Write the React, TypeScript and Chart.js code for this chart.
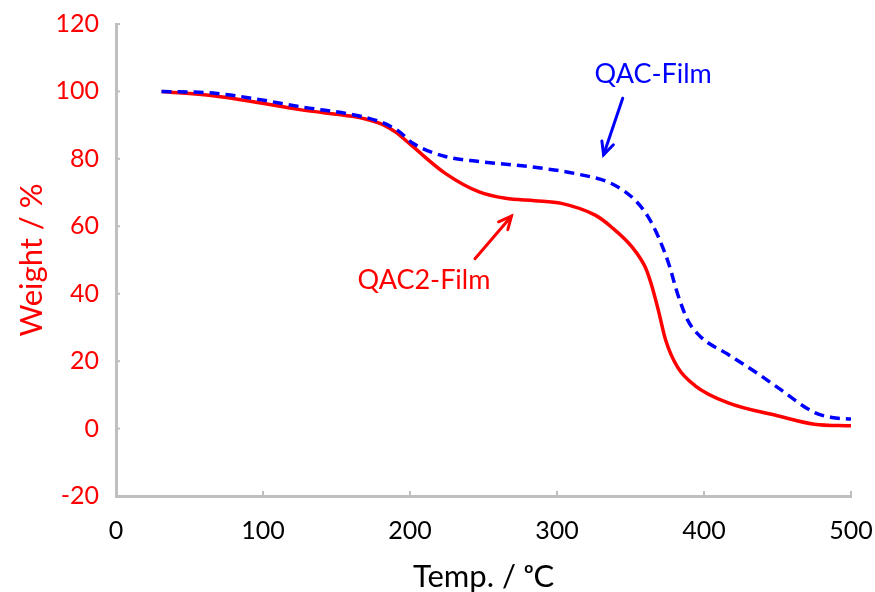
import { useEffect, useRef } from "react";
import { Chart, registerables } from "chart.js";

Chart.register(...registerables);

// QAC2-Film (red, solid)
const qac2Temps = [31, 66, 125, 179, 190, 202, 224, 247, 265, 285, 303, 326, 337, 351, 360, 364, 369, 374, 382, 394, 416, 450, 475, 500];
const qac2Weights = [100, 98.7, 94.6, 90.6, 88, 83.6, 75.7, 70.2, 68.3, 67.6, 66.8, 63.3, 59.8, 53.9, 47.9, 43, 35, 26.1, 18.2, 12.7, 7.7, 3.8, 1.3, 0.8];

// QAC-Film (blue, dashed)
const qacTemps = [31, 66, 125, 179, 192, 202, 224, 247, 281, 315, 337, 353, 362, 369, 376, 382, 389, 398, 416, 437, 450, 475, 487, 500];
const qacWeights = [100, 99.5, 95.5, 91.1, 88.3, 84.6, 80.7, 79.2, 77.7, 75.4, 72.7, 67.8, 62.8, 56.8, 48.9, 40, 32.1, 27.1, 22.1, 16.2, 12.2, 4.8, 3.3, 2.8];

const xTickValues = [0, 100, 200, 300, 400, 500];
const yTickValues = [-20, 0, 20, 40, 60, 80, 100, 120];

// annotation labels and arrows, in data units
const labelTexts = ["QAC-Film", "QAC2-Film"];
const labelColors = ["#0000ff", "#ff0000"];
const labelAt = [[365.4, 105], [209.5, 44]];
const arrowFrom = [[344.7, 98], [244.2, 50.4]];
const arrowTo = [[331.7, 81.2], [269, 63]];

const FONT = "Lato, 'Open Sans', sans-serif";
const AXIS_GRAY = "#bfbfbf";

const annotationPlugin = {
  id: "annot",
  afterDraw(chart: any) {
    const { ctx, scales } = chart;
    const xs = scales.x;
    const ys = scales.y;
    ctx.save();
    // inward tick marks
    ctx.strokeStyle = AXIS_GRAY;
    ctx.lineWidth = 2;
    const axisY = ys.getPixelForValue(-20);
    const axisX = xs.getPixelForValue(0);
    xTickValues.forEach((v) => {
      if (v === 0) return;
      const px = xs.getPixelForValue(v);
      ctx.beginPath();
      ctx.moveTo(px, axisY);
      ctx.lineTo(px, axisY - 5);
      ctx.stroke();
    });
    yTickValues.forEach((v) => {
      if (v === -20) return;
      const py = ys.getPixelForValue(v);
      ctx.beginPath();
      ctx.moveTo(axisX, py);
      ctx.lineTo(axisX + 4, py);
      ctx.stroke();
    });
    // labels + arrows
    labelTexts.forEach((t, i) => {
      const color = labelColors[i];
      ctx.fillStyle = color;
      ctx.strokeStyle = color;
      ctx.font = `27px ${FONT}`;
      ctx.textAlign = "center";
      ctx.textBaseline = "middle";
      ctx.fillText(t, xs.getPixelForValue(labelAt[i][0]), ys.getPixelForValue(labelAt[i][1]));
      const x1 = xs.getPixelForValue(arrowFrom[i][0]);
      const y1 = ys.getPixelForValue(arrowFrom[i][1]);
      const x2 = xs.getPixelForValue(arrowTo[i][0]);
      const y2 = ys.getPixelForValue(arrowTo[i][1]);
      ctx.lineWidth = 3;
      ctx.lineCap = "round";
      ctx.beginPath();
      ctx.moveTo(x1, y1);
      ctx.lineTo(x2, y2);
      ctx.stroke();
      const ang = Math.atan2(y2 - y1, x2 - x1);
      const len = 14;
      const spread = Math.PI / 7;
      ctx.beginPath();
      ctx.moveTo(x2 - len * Math.cos(ang - spread), y2 - len * Math.sin(ang - spread));
      ctx.lineTo(x2, y2);
      ctx.lineTo(x2 - len * Math.cos(ang + spread), y2 - len * Math.sin(ang + spread));
      ctx.stroke();
    });
    ctx.restore();
  },
};

export default function App() {
  const ref = useRef<HTMLCanvasElement | null>(null);
  useEffect(() => {
    if (!ref.current) return;
    const chart = new Chart(ref.current, {
      type: "line",
      data: {
        datasets: [
          {
            label: "QAC-Film",
            data: qacTemps.map((t, i) => ({ x: t, y: qacWeights[i] })),
            borderColor: "#0000ff",
            borderWidth: 3.5,
            borderDash: [10, 6],
            pointRadius: 0,
            cubicInterpolationMode: "monotone",
            fill: false,
          },
          {
            label: "QAC2-Film",
            data: qac2Temps.map((t, i) => ({ x: t, y: qac2Weights[i] })),
            borderColor: "#ff0000",
            borderWidth: 3.5,
            pointRadius: 0,
            cubicInterpolationMode: "monotone",
            fill: false,
          },
        ],
      },
      options: {
        responsive: false,
        animation: false,
        layout: { padding: { left: 0, right: 24, top: 24, bottom: 0 } },
        plugins: {
          legend: { display: false },
          tooltip: { enabled: false },
        },
        scales: {
          x: {
            type: "linear",
            min: 0,
            max: 500,
            afterBuildTicks: (s: any) => {
              s.ticks = xTickValues.map((v) => ({ value: v }));
            },
            afterFit: (s: any) => {
              s.height = 96;
              s.paddingLeft = 0;
              s.paddingRight = 0;
            },
            grid: { display: false, drawTicks: false },
            border: { display: true, color: AXIS_GRAY, width: 3 },
            ticks: { color: "#000000", font: { family: FONT, size: 25 }, padding: 20, maxRotation: 0 },
            title: {
              display: true,
              text: "Temp. / ᵒC",
              color: "#000000",
              font: { family: FONT, size: 31 },
              padding: { top: 0, bottom: -4 },
            },
          },
          y: {
            type: "linear",
            min: -20,
            max: 120,
            afterBuildTicks: (s: any) => {
              s.ticks = yTickValues.map((v) => ({ value: v }));
            },
            afterFit: (s: any) => {
              s.width = 116;
              s.paddingTop = 0;
              s.paddingBottom = 0;
            },
            grid: { display: false, drawTicks: false },
            border: { display: true, color: AXIS_GRAY, width: 3 },
            ticks: { color: "#ff0000", font: { family: FONT, size: 25 }, padding: 17 },
            title: {
              display: true,
              text: "Weight / %",
              color: "#ff0000",
              font: { family: FONT, size: 31 },
              padding: { top: 13, bottom: 0 },
            },
          },
        },
      },
      plugins: [annotationPlugin],
    } as any);
    return () => chart.destroy();
  }, []);
  return (
    <div style={{ position: "absolute", left: 0, top: 0, width: 875, height: 592, background: "#fff" }}>
      <canvas ref={ref} width={875} height={592} style={{ display: "block" }} />
    </div>
  );
}
